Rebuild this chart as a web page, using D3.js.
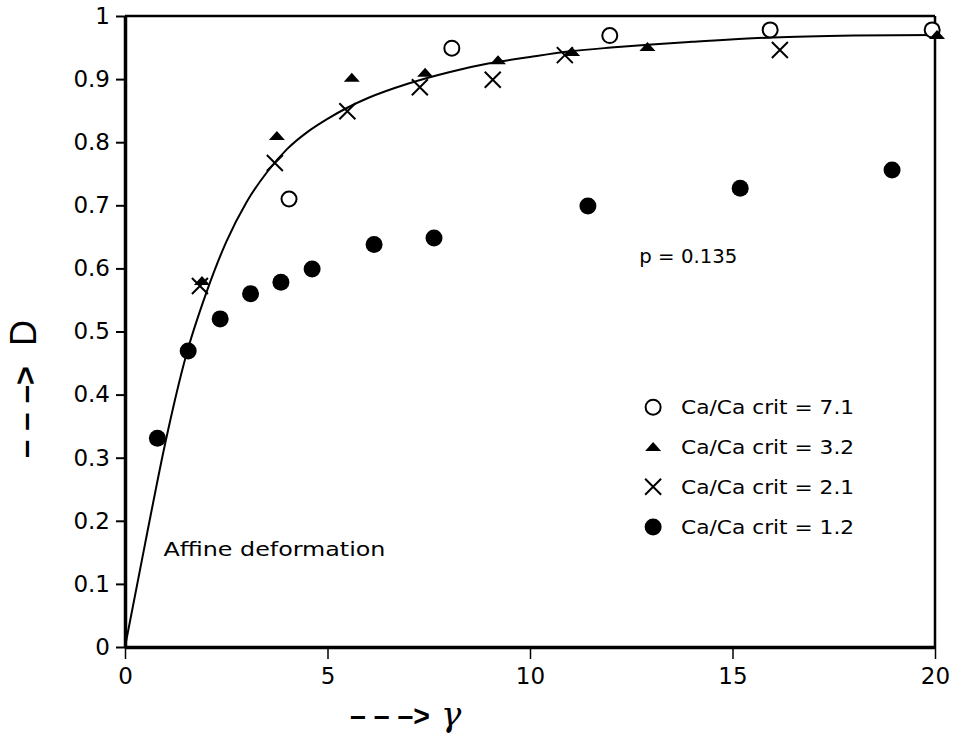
<!DOCTYPE html>
<html>
<head>
<meta charset="utf-8">
<script src="https://cdn.jsdelivr.net/npm/d3@7"></script>
<style>
  body { margin: 0; background: #fff; }
  svg { display: block; }
  text { fill: #000; }
</style>
</head>
<body>
<svg id="chart" width="955" height="738"></svg>
<script>
// values
const gammaCurve = [0, 0.5, 1, 1.5, 2, 2.5, 3, 3.5, 4, 4.5, 5, 5.5, 6, 7, 8, 9, 10, 11, 12, 13, 14, 16, 18, 20]
const dCurve = [0, 0.165, 0.325, 0.46, 0.56, 0.642, 0.705, 0.752, 0.789, 0.816, 0.837, 0.855, 0.87, 0.893, 0.911, 0.925, 0.935, 0.944, 0.95, 0.955, 0.959, 0.966, 0.969, 0.97]

const open71 = [[4.05, 0.71], [8.07, 0.949], [11.97, 0.969], [15.93, 0.978], [19.93, 0.978]]
const tri32 = [[1.9, 0.58], [3.75, 0.81], [5.6, 0.902], [7.41, 0.91], [9.21, 0.93], [11.04, 0.943], [12.9, 0.951], [20.05, 0.97]]
const cross21 = [[1.85, 0.572], [3.7, 0.767], [5.49, 0.849], [7.28, 0.887], [9.08, 0.899], [10.86, 0.938], [16.17, 0.946]]
const filled12 = [[0.8, 0.331], [1.56, 0.469], [2.35, 0.52], [3.1, 0.56], [3.85, 0.578], [4.62, 0.599], [6.15, 0.638], [7.63, 0.648], [11.43, 0.699], [15.19, 0.727], [18.94, 0.756]]

const legendLabels = ['Ca/Ca crit = 7.1', 'Ca/Ca crit = 3.2', 'Ca/Ca crit = 2.1', 'Ca/Ca crit = 1.2']
const xTicks = [0, 5, 10, 15, 20]
const yTicks = [0, 0.1, 0.2, 0.3, 0.4, 0.5, 0.6, 0.7, 0.8, 0.9, 1]

const svg = d3.select('#chart')
const dims = { left: 125, right: 935, top: 16, bottom: 647 }
const font = 'DejaVu Sans, sans-serif'
const gothic = 'DejaVu Sans, sans-serif'

const x = d3.scaleLinear().domain([0, 20]).range([dims.left, dims.right])
const y = d3.scaleLinear().domain([0, 1]).range([dims.bottom, dims.top])

/// frame ////////
svg.append('line').attr('x1', dims.left).attr('x2', dims.right).attr('y1', dims.top).attr('y2', dims.top)
    .attr('stroke', '#000').attr('stroke-width', 2.5)
svg.append('line').attr('x1', dims.right).attr('x2', dims.right).attr('y1', dims.top).attr('y2', dims.bottom)
    .attr('stroke', '#000').attr('stroke-width', 2.5)

/// axes ////////
const yAxis = svg.append('g')
    .attr('transform', `translate(${dims.left},0)`)
    .call(d3.axisLeft(y).tickValues(yTicks).tickSize(9).tickPadding(6).tickSizeOuter(0)
        .tickFormat(d => d === 0 || d === 1 ? d3.format('d')(d) : d3.format('.1f')(d)))
yAxis.select('.domain').attr('stroke-width', 3.5)
yAxis.selectAll('.tick line').attr('stroke-width', 2)
yAxis.selectAll('text').attr('font-family', font).attr('font-size', 23).attr('fill', '#000')

const xAxis = svg.append('g')
    .attr('transform', `translate(0,${dims.bottom})`)
    .call(d3.axisBottom(x).tickValues(xTicks).tickSize(12).tickPadding(9).tickSizeOuter(0))
xAxis.select('.domain').attr('stroke-width', 3.5)
xAxis.selectAll('.tick line').attr('stroke-width', 1.5)
xAxis.selectAll('text').attr('font-family', font).attr('font-size', 23).attr('fill', '#000')

/// theory curve ////////
const line = d3.line()
    .x((d, i) => x(gammaCurve[i]))
    .y(d => y(d))
    .curve(d3.curveMonotoneX)

svg.append('path')
    .attr('d', line(dCurve))
    .attr('fill', 'none')
    .attr('stroke', '#000')
    .attr('stroke-width', 2)

/// markers ////////
function drawOpen(g, data) {
    g.selectAll('circle.open').data(data).join('circle')
        .classed('open', true)
        .attr('cx', d => x(d[0])).attr('cy', d => y(d[1])).attr('r', 7.5)
        .attr('fill', '#fff').attr('stroke', '#000').attr('stroke-width', 2)
}
function drawTri(g, data) {
    g.selectAll('path.tri').data(data).join('path')
        .classed('tri', true)
        .attr('d', d => `M${x(d[0]) - 8},${y(d[1]) + 4}L${x(d[0])},${y(d[1]) - 5}L${x(d[0]) + 8},${y(d[1]) + 4}Z`)
        .attr('fill', '#000')
}
function drawCross(g, data) {
    g.selectAll('path.cross').data(data).join('path')
        .classed('cross', true)
        .attr('d', d => `M${x(d[0]) - 8},${y(d[1]) - 8}L${x(d[0]) + 8},${y(d[1]) + 8}M${x(d[0]) - 8},${y(d[1]) + 8}L${x(d[0]) + 8},${y(d[1]) - 8}`)
        .attr('stroke', '#000').attr('stroke-width', 2).attr('fill', 'none')
}
function drawFilled(g, data) {
    g.selectAll('circle.filled').data(data).join('circle')
        .classed('filled', true)
        .attr('cx', d => x(d[0])).attr('cy', d => y(d[1])).attr('r', 8.5)
        .attr('fill', '#000')
}

const marks = svg.append('g')
drawFilled(marks.append('g'), filled12)
drawOpen(marks.append('g'), open71)
drawTri(marks.append('g'), tri32)
drawCross(marks.append('g'), cross21)

/// legend ////////
const legend = svg.append('g')
const legendX = 13.04, legendY = [0.38, 0.317, 0.254, 0.19]
const legendDrawers = [drawOpen, drawTri, drawCross, drawFilled]
legendLabels.forEach((label, i) => {
    const g = legend.append('g')
    legendDrawers[i](g, [[legendX, legendY[i]]])
    g.append('text')
        .attr('x', x(legendX) + 28)
        .attr('y', y(legendY[i]))
        .attr('dy', '0.35em')
        .attr('font-family', gothic)
        .attr('font-size', 20)
        .attr('textLength', 173)
        .attr('lengthAdjust', 'spacingAndGlyphs')
        .text(label)
})

/// annotations ////////
svg.append('text')
    .attr('x', x(12.7)).attr('y', y(0.608))
    .attr('font-family', gothic).attr('font-size', 19)
    .attr('textLength', 98).attr('lengthAdjust', 'spacingAndGlyphs')
    .text('p = 0.135')

svg.append('text')
    .attr('x', x(0.95)).attr('y', y(0.145))
    .attr('font-family', gothic).attr('font-size', 20)
    .attr('textLength', 222).attr('lengthAdjust', 'spacingAndGlyphs')
    .text('Affine deformation')

/// axis titles ////////
svg.append('text')
    .attr('x', 350).attr('y', 726)
    .attr('font-family', 'Liberation Sans, sans-serif').attr('font-size', 30).attr('font-weight', 'bold')
    .attr('textLength', 80).attr('lengthAdjust', 'spacingAndGlyphs')
    .text('– – –>')
svg.append('text')
    .attr('x', 441).attr('y', 726)
    .attr('font-family', 'DejaVu Serif, serif').attr('font-size', 34).attr('font-style', 'italic')
    .text('γ')

const yt = svg.append('g').attr('transform', 'translate(36,0) rotate(-90)')
yt.append('text')
    .attr('x', -458).attr('y', 0)
    .attr('font-family', 'Liberation Sans, sans-serif').attr('font-size', 32).attr('font-weight', 'bold')
    .attr('textLength', 92).attr('lengthAdjust', 'spacingAndGlyphs')
    .text('– – –>')
yt.append('text')
    .attr('x', -346).attr('y', 0)
    .attr('font-family', 'Liberation Sans, sans-serif').attr('font-size', 36)
    .text('D')
</script>
</body>
</html>
